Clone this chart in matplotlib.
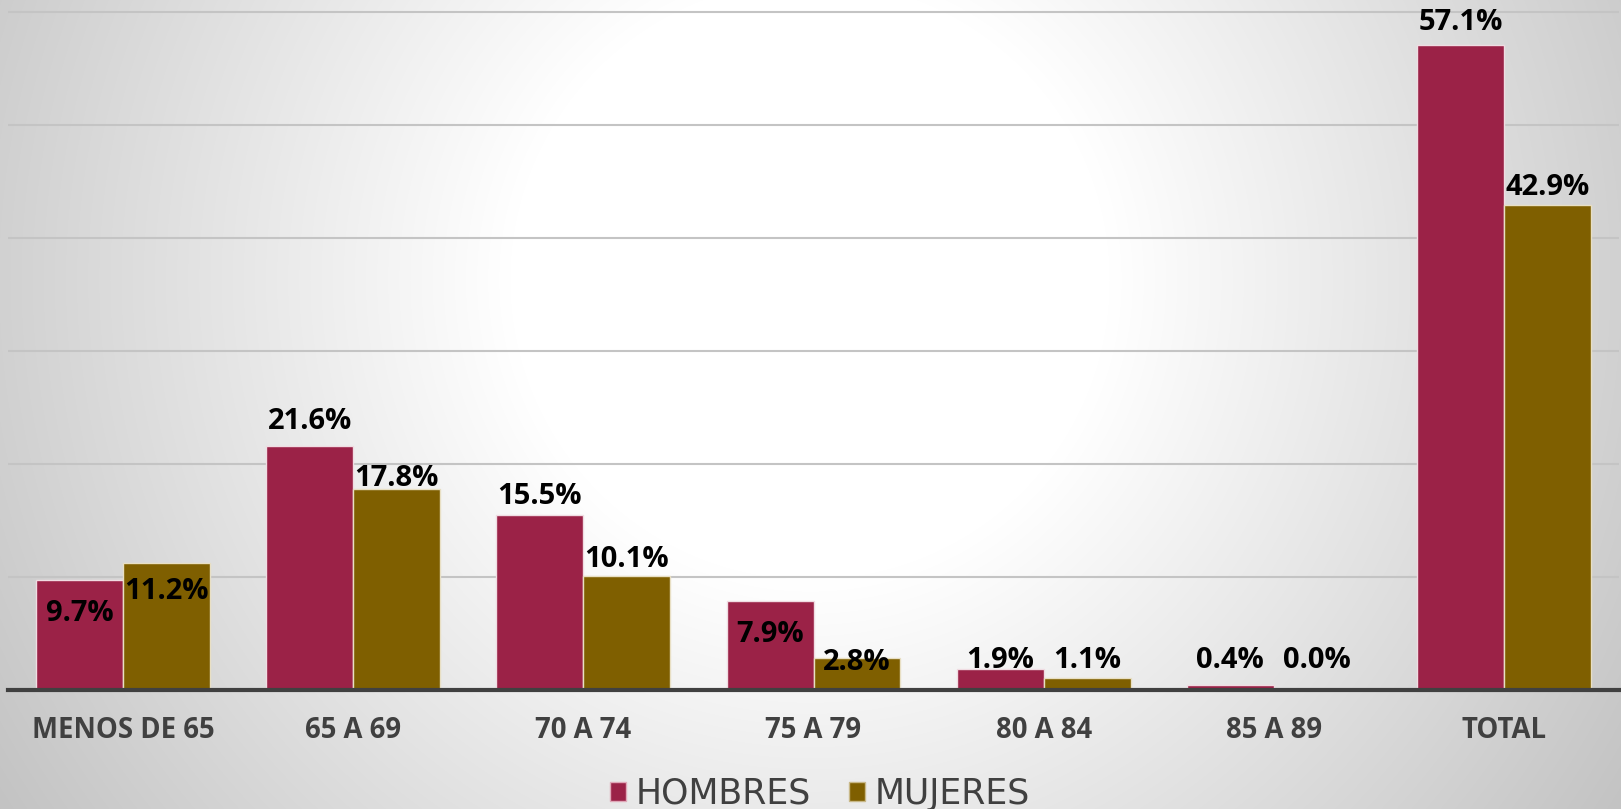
import numpy as np
import matplotlib.pyplot as plt
from matplotlib.patches import Patch

# Data
categorias = ['MENOS DE 65', '65 A 69', '70 A 74', '75 A 79', '80 A 84', '85 A 89', 'TOTAL']
hombres = [9.7, 21.6, 15.5, 7.9, 1.9, 0.4, 57.1]
mujeres = [11.2, 17.8, 10.1, 2.8, 1.1, 0.0, 42.9]

# label offsets (points) relative to bar top, as placed in the original
off_h = [-23.8, 17.3, 13.0, -24.5, 5.8, 18.0, 15.8]
off_m = [-20.2, 7.2, 11.5, -2.9, 12.2, 21.6, 13.0]

c_h = '#9B2247'
c_m = '#7F5F00'
txt_gray = '#404040'

W, H = 1621, 809
fig = plt.figure(figsize=(W / 100, H / 100), dpi=100)

# radial gradient background
bg = fig.add_axes([0, 0, 1, 1], zorder=-1)
yy, xx = np.mgrid[0:H, 0:W]
r = np.hypot(xx - 810, yy - 280)
val = 255 - 63 * np.clip((r - 300) / 700, 0, 1)
img = np.dstack([val, val, val]) / 255.0
bg.imshow(img, aspect='auto', extent=[0, 1, 0, 1], origin='upper')
bg.axis('off')

ax = fig.add_axes([8 / W, 1 - 690 / H, 1611 / W, (690 - 8.6) / H])
ax.set_facecolor('none')

x = np.arange(len(categorias))
w = 0.378
bh = ax.bar(x - w / 2, hombres, w, color=c_h, edgecolor='#f0dce2', linewidth=1, zorder=3)
bm = ax.bar(x + w / 2, mujeres, w, color=c_m, edgecolor='#e8dfc4', linewidth=1, zorder=3)

lab_font = dict(fontsize=21, fontweight='bold', family='Open Sans', color='black')
for xi, v, o in zip(x - w / 2, hombres, off_h):
    ax.annotate(f'{v:.1f}%', (xi, v), xytext=(0, o), textcoords='offset points',
                ha='center', va='center', zorder=5, **lab_font)
for xi, v, o in zip(x + w / 2, mujeres, off_m):
    ax.annotate(f'{v:.1f}%', (xi, v), xytext=(0, o), textcoords='offset points',
                ha='center', va='center', zorder=5, **lab_font)

ax.set_xlim(-0.5, len(categorias) - 0.5)
ax.set_ylim(0, 60.3)
ax.set_yticks(np.arange(0, 61, 10))
ax.yaxis.grid(True, color='#c4c4c4', linewidth=1.5, zorder=0)
ax.set_axisbelow(True)
ax.tick_params(axis='y', left=False, labelleft=False)
ax.set_xticks(x)
ax.set_xticklabels(categorias, fontsize=19.8, fontweight='bold', family='Open Sans', color=txt_gray)
ax.tick_params(axis='x', length=0, pad=19)

for s in ['top', 'left', 'right']:
    ax.spines[s].set_visible(False)
ax.spines['bottom'].set_color(txt_gray)
ax.spines['bottom'].set_linewidth(3)
ax.spines['bottom'].set_zorder(4)

handles = [Patch(facecolor=c_h, edgecolor='#e0a8b8', label='HOMBRES'),
           Patch(facecolor=c_m, edgecolor='#c8b888', label='MUJERES')]
fig.legend(handles=handles, loc='center', bbox_to_anchor=(0.506, 0.019), ncol=2,
           frameon=False, prop={'family': 'DejaVu Sans', 'size': 25},
           labelcolor=txt_gray, handlelength=0.46, handleheight=0.46,
           handletextpad=0.28, columnspacing=1.1, borderpad=0, borderaxespad=0)

fig.savefig('out.png', dpi=100)
